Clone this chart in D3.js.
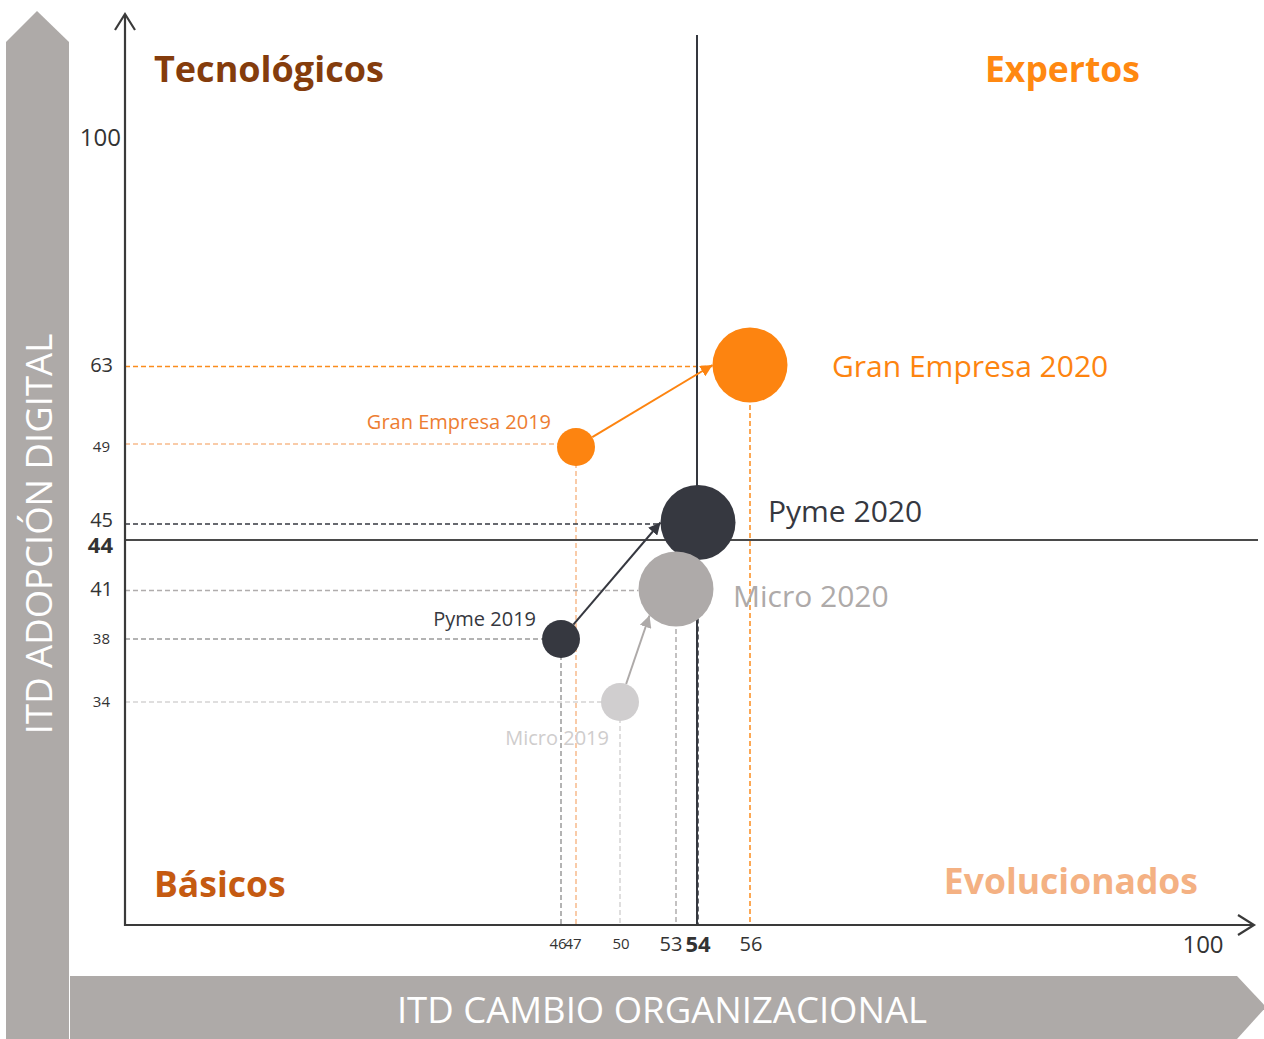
<!DOCTYPE html>
<html>
<head>
<meta charset="utf-8">
<script src="https://cdn.jsdelivr.net/npm/d3@7/dist/d3.min.js"></script>
<style>
  html, body { margin: 0; padding: 0; background: #fff; }
  svg { display: block; font-family: "Open Sans", "Noto Sans", sans-serif; }
</style>
</head>
<body>
<svg id="chart" width="1264" height="1039"></svg>
<script>
// ---------------- DATA ----------------
const series = ["Gran Empresa", "Pyme", "Micro"];
const x2019 = [47, 46, 50];
const y2019 = [49, 38, 34];
const x2020 = [56, 54, 53];
const y2020 = [63, 45, 41];
const xAverage = 54;
const yAverage = 44;
const xTicks = [46, 47, 50, 53, 54, 56, 100];
const yTicks = [34, 38, 41, 44, 45, 49, 63, 100];
const quadrants = ["Tecnológicos", "Expertos", "Básicos", "Evolucionados"];
const xTitle = "ITD CAMBIO ORGANIZACIONAL";
const yTitle = "ITD ADOPCIÓN DIGITAL";

// ---------------- STYLE ----------------
const W = 1264, H = 1039;
const colors2020 = ["#fd8410", "#363840", "#aeaaa9"];
const colors2019 = ["#fd8410", "#363840", "#d0cecf"];
const labelColors2020 = ["#fd8410", "#363840", "#aeaaa9"];
const labelColors2019 = ["#ed7d31", "#363840", "#cfcdcd"];
const dash2020 = ["#fb8c1c", "#363840", "#b0adad"];
const dash2019 = ["#f7bb8c", "#9a9a9a", "#d5d3d3"];
const arrowColors = ["#fd8410", "#363840", "#aeaaa9"];
const arrowAngle = [0, 0, 45]; // where arrow meets the 2020 bubble (deg from left, downward)
const r2019 = 19, r2020 = 37.5;

// Non-uniform axes, as in the reference infographic (polylinear scales)
const x = d3.scaleLinear()
  .domain([0, 46, 47, 50, 53, 54, 56, 100])
  .range([125, 561, 576, 620, 676, 698, 750, 1203]);
const y = d3.scaleLinear()
  .domain([0, 34, 38, 41, 44, 45, 49, 63, 100])
  .range([925, 702, 639, 589, 540, 522.5, 447, 365, 137]);

const svg = d3.select("#chart");
const x0 = x(0), y0 = y(0);

// ---------------- BACKGROUND ARROWS ----------------
const gray = "#aeaaa8";
svg.append("path")
  .attr("d", "M6,42 L37,11 L69,42 L69,1039 L6,1039 Z")
  .attr("fill", gray);
svg.append("path")
  .attr("d", "M70,976 L1237,976 L1266,1007 L1237,1039 L70,1039 Z")
  .attr("fill", gray);

svg.append("text")
  .attr("transform", "translate(52,534) rotate(-90)")
  .attr("text-anchor", "middle")
  .attr("fill", "#fff")
  .attr("font-size", 36.5)
  .text(yTitle);
svg.append("text")
  .attr("x", 662).attr("y", 1023)
  .attr("text-anchor", "middle")
  .attr("fill", "#fff")
  .attr("font-size", 36.5)
  .text(xTitle);

// ---------------- DROP LINES ----------------
const drop = svg.append("g").attr("fill", "none").attr("stroke-width", 1.5).attr("stroke-dasharray", "5,3");
series.forEach((s, i) => {
  // 2019
  drop.append("line")
    .attr("x1", x0).attr("x2", x(x2019[i]) - r2019 * 0.5)
    .attr("y1", y(y2019[i]) - (i === 0 ? 3 : 0)).attr("y2", y(y2019[i]) - (i === 0 ? 3 : 0))
    .attr("stroke", dash2019[i]);
  drop.append("line")
    .attr("x1", x(x2019[i])).attr("x2", x(x2019[i]))
    .attr("y1", y(y2019[i])).attr("y2", y0)
    .attr("stroke", dash2019[i]);
  // 2020
  drop.append("line")
    .attr("x1", x0).attr("x2", x(x2020[i]) - r2020)
    .attr("y1", y(y2020[i]) + 1.5).attr("y2", y(y2020[i]) + 1.5)
    .attr("stroke", dash2020[i]);
  drop.append("line")
    .attr("x1", x(x2020[i])).attr("x2", x(x2020[i]))
    .attr("y1", y(y2020[i])).attr("y2", y0)
    .attr("stroke", dash2020[i]);
});

// ---------------- QUADRANT LINES ----------------
svg.append("line")
  .attr("x1", x(xAverage) - 1).attr("x2", x(xAverage) - 1)
  .attr("y1", 35).attr("y2", y0)
  .attr("stroke", "#35383f").attr("stroke-width", 2);
svg.append("line")
  .attr("x1", x0).attr("x2", 1258)
  .attr("y1", y(yAverage)).attr("y2", y(yAverage))
  .attr("stroke", "#4a4a4a").attr("stroke-width", 2);

// ---------------- AXES ----------------
const axisColor = "#3a3a3a";
svg.append("line").attr("x1", x0).attr("x2", x0).attr("y1", 15).attr("y2", y0 + 1)
  .attr("stroke", axisColor).attr("stroke-width", 2.2);
svg.append("path").attr("d", `M${x0 - 10},30 L${x0},14 L${x0 + 10},30`)
  .attr("fill", "none").attr("stroke", axisColor).attr("stroke-width", 2.2);
svg.append("line").attr("x1", x0 - 1).attr("x2", 1253).attr("y1", y0).attr("y2", y0)
  .attr("stroke", axisColor).attr("stroke-width", 2.2);
svg.append("path").attr("d", `M1238,915 L1254,925 L1238,935`)
  .attr("fill", "none").attr("stroke", axisColor).attr("stroke-width", 2.2);

// tick labels
const tickSize = v => (v === 100 ? 24 : (v === 44 || v === 54) ? 22 : ([46, 47, 50, 49, 38, 34].includes(v) ? 15 : 20));
const tickBold = v => (v === 44 || v === 54);
const xDx = {46: -3, 47: -3, 50: 1, 53: -5, 54: 0, 56: 1, 100: 0};
const yDy = {44: 5, 45: -3};
svg.append("g").selectAll("text").data(xTicks).join("text")
  .attr("x", d => x(d) + xDx[d])
  .attr("y", d => 944 + tickSize(d) * 0.36)
  .attr("text-anchor", "middle")
  .attr("font-size", d => tickSize(d))
  .attr("font-weight", d => tickBold(d) ? 700 : 400)
  .attr("fill", "#333")
  .text(d => d);
svg.append("g").selectAll("text").data(yTicks).join("text")
  .attr("x", d => d === 100 ? 121 : (tickSize(d) === 15 ? 110 : 113))
  .attr("y", d => y(d) + tickSize(d) * 0.36 + (yDy[d] || 0))
  .attr("text-anchor", "end")
  .attr("font-size", d => tickSize(d))
  .attr("font-weight", d => tickBold(d) ? 700 : 400)
  .attr("fill", "#333")
  .text(d => d);

// ---------------- ARROWS ----------------
const defs = svg.append("defs");
arrowColors.forEach((c, i) => {
  defs.append("marker")
    .attr("id", "ah" + i)
    .attr("viewBox", "0 0 10 10")
    .attr("refX", 10).attr("refY", 5)
    .attr("markerWidth", 6).attr("markerHeight", 6)
    .attr("markerUnits", "strokeWidth")
    .attr("orient", "auto")
    .append("path").attr("d", "M0,0 L10,5 L0,10 Z").attr("fill", c);
});
series.forEach((s, i) => {
  const a = arrowAngle[i] * Math.PI / 180;
  const tx = x(x2020[i]) - r2020 * Math.cos(a);
  const ty = y(y2020[i]) + r2020 * Math.sin(a);
  const sx0 = x(x2019[i]), sy0 = y(y2019[i]);
  const dx = tx - sx0, dy = ty - sy0, len = Math.hypot(dx, dy);
  svg.append("line")
    .attr("x1", sx0 + dx / len * r2019).attr("y1", sy0 + dy / len * r2019)
    .attr("x2", tx).attr("y2", ty)
    .attr("stroke", arrowColors[i]).attr("stroke-width", 2)
    .attr("marker-end", `url(#ah${i})`);
});

// ---------------- BUBBLES ----------------
const order = [0, 1, 2];
order.forEach(i => {
  svg.append("circle").attr("cx", x(x2019[i])).attr("cy", y(y2019[i])).attr("r", r2019).attr("fill", colors2019[i]);
});
order.forEach(i => {
  svg.append("circle").attr("cx", x(x2020[i])).attr("cy", y(y2020[i])).attr("r", r2020).attr("fill", colors2020[i]);
});

// ---------------- LABELS ----------------
const lab2020 = [[82, 12], [70, -1], [57, 18]];
series.forEach((s, i) => {
  svg.append("text")
    .attr("x", x(x2020[i]) + lab2020[i][0]).attr("y", y(y2020[i]) + lab2020[i][1])
    .attr("font-size", 30).attr("fill", labelColors2020[i])
    .text(s + " 2020");
});
const lab2019 = [[-25, -18, "end"], [-25, -13, "end"], [-11, 43, "end"]];
series.forEach((s, i) => {
  svg.append("text")
    .attr("x", x(x2019[i]) + lab2019[i][0]).attr("y", y(y2019[i]) + lab2019[i][1])
    .attr("text-anchor", lab2019[i][2])
    .attr("font-size", 20).attr("fill", labelColors2019[i])
    .text(s + " 2019");
});

// ---------------- QUADRANT TITLES ----------------
const qStyle = [
  {x: 154, y: 82, anchor: "start", color: "#843c0c", size: 36},
  {x: 1140, y: 82, anchor: "end", color: "#ff8811", size: 35.5},
  {x: 154, y: 897, anchor: "start", color: "#c55a11", size: 35.5},
  {x: 1198, y: 894, anchor: "end", color: "#f4b183", size: 35.5}
];
quadrants.forEach((q, i) => {
  svg.append("text")
    .attr("x", qStyle[i].x).attr("y", qStyle[i].y)
    .attr("text-anchor", qStyle[i].anchor)
    .attr("font-size", qStyle[i].size).attr("font-weight", 700)
    .attr("fill", qStyle[i].color)
    .text(q);
});
</script>
</body>
</html>
